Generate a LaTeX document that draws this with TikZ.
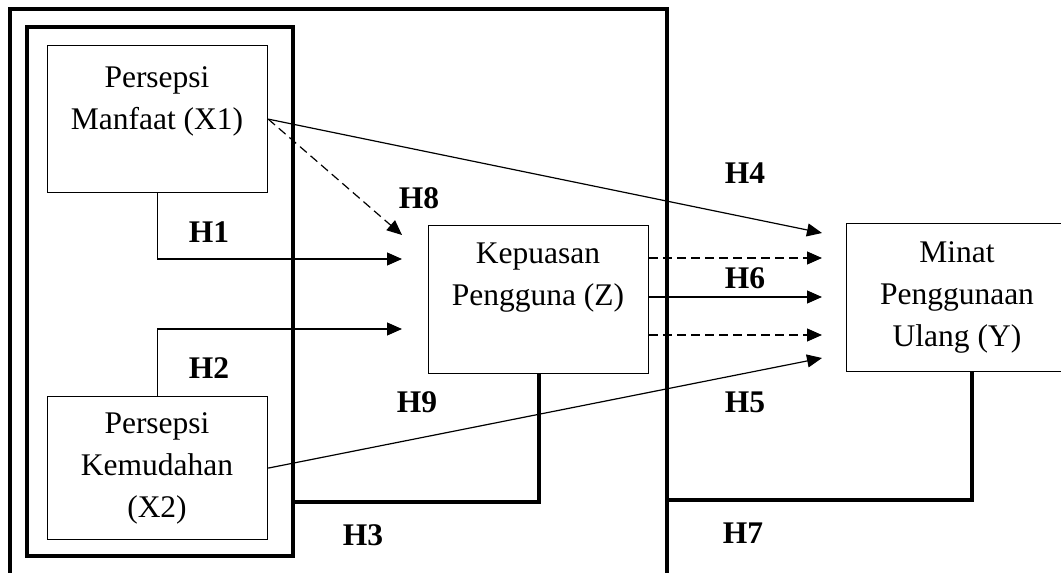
\documentclass[tikz,border=0pt]{standalone}
\usepackage{fontspec}
\setmainfont{Liberation Serif}
\usetikzlibrary{arrows.meta}
\usetikzlibrary{positioning}
\tikzset{box/.style = {draw, line width = 1.2, inner sep = 0, anchor = north west}}
\tikzset{txt/.style = {align = center, inner sep = 0, font = \fontsize{31.5}{42}\selectfont}}
\tikzset{hlab/.style = {inner sep = 0, font = \fontsize{31.5}{36}\selectfont\bfseries}}
\tikzset{arr/.style = {-{Triangle[length = 15pt, width = 13pt]}, line width = 1.2}}
\tikzset{dsh/.style = {dash pattern = on 9pt off 5pt}}
\tikzset{thk/.style = {line width = 4}}

\begin{document}
\begin{tikzpicture}[x = 1pt, y = -1pt]
    \useasboundingbox (0, 0) rectangle (1061, 573);

    % frames
    \draw[line width = 3.5] (10, 590) -- (10, 9) -- (667, 9) -- (667, 590);
    \draw[line width = 4] (27, 27) rectangle (293, 556);

    % variables
    \node [box, minimum width = 220, minimum height = 147] (x1) at (47, 45) {};
    \node [txt] (x1txt) at (157, 101) {Persepsi\\Manfaat (X1)};
    \node [box, minimum width = 220, minimum height = 143] (x2) at (47, 396) {};
    \node [txt] (x2txt) at (157, 468) {Persepsi\\Kemudahan\\(X2)};
    \node [box, minimum width = 220, minimum height = 148] (z) at (428, 225) {};
    \node [txt] (ztxt) at (538, 278) {Kepuasan\\Pengguna (Z)};
    \node [box, minimum width = 222, minimum height = 148] (y) at (846, 223) {};
    \node [txt] (ytxt) at (957, 297) {Minat\\Penggunaan\\Ulang (Y)};

    % arrow ends
    \coordinate (p1) at (402, 259);
    \coordinate (p2) at (402, 329);
    \coordinate (p8) at (402, 235);
    \coordinate (p4) at (822, 233);
    \coordinate (p6a) at (822, 258);
    \coordinate (p6) at (822, 297);
    \coordinate (p6b) at (822, 335);
    \coordinate (p5) at (822, 358);
    \coordinate (h3end) at (293, 502);
    \coordinate (h7end) at (667, 500);

    \draw[arr] (x1.south) |- (p1);
    \draw[arr] (x2.north) |- (p2);
    \draw[arr, dsh] (x1.east) -- (p8);
    \draw[arr] (x1.east) -- (p4);
    \draw[arr] (x2.east) -- (p5);
    \draw[arr, dsh] (z.east |- p6a) -- (p6a);
    \draw[arr] (z.east |- p6) -- (p6);
    \draw[arr, dsh] (z.east |- p6b) -- (p6b);
    \draw[thk] (z.south) |- (h3end);
    \draw[thk] ([xshift = 14pt]y.south) |- (h7end);

    % hypotheses
    \node [hlab] (h1) at (209, 232) {H1};
    \node [hlab] (h2) at (209, 368) {H2};
    \node [hlab] (h3) at (363, 535) {H3};
    \node [hlab] (h4) at (745, 173) {H4};
    \node [hlab] (h5) at (745, 402) {H5};
    \node [hlab] (h6) at (745, 278) {H6};
    \node [hlab] (h7) at (743, 533) {H7};
    \node [hlab] (h8) at (419, 198) {H8};
    \node [hlab] (h9) at (417, 402) {H9};
\end{tikzpicture}
\end{document}
